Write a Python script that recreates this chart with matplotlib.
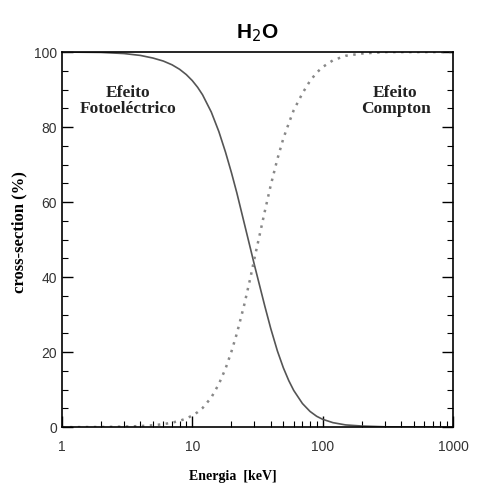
from matplotlib import pyplot as plt
from matplotlib.ticker import MultipleLocator, FixedLocator, NullFormatter
import numpy as np

# values
energy_foto = [1, 2, 3, 4, 5, 6, 7, 8, 9, 10, 11, 12, 14, 16, 18, 20, 22, 25, 28, 30, 33, 36,
               40, 45, 50, 55, 60, 70, 80, 90, 100, 120, 150, 200, 300, 1000]
foto = [100, 99.9, 99.6, 99.1, 98.4, 97.6, 96.6, 95.4, 94.0, 92.4, 90.6, 88.6, 84, 78.8, 73.3,
        67.8, 62.4, 54.5, 47.5, 43.2, 37.5, 32.3, 26.3, 20.3, 15.8, 12.4, 9.8, 6.3, 4.2, 2.9,
        2.1, 1.2, 0.6, 0.3, 0.1, 0]

energy_compton = [1, 2, 3, 4, 5, 6, 7, 8, 9, 10, 11, 12, 14, 16, 18, 20, 22, 25, 28, 30, 33, 36,
                  40, 45, 50, 55, 60, 70, 80, 90, 100, 120, 150, 200, 300, 1000]
compton = [0, 0.05, 0.15, 0.3, 0.5, 0.8, 1.2, 1.7, 2.3, 3.1, 4.0, 5.1, 7.9, 11.5, 15.6, 20.2,
           25.0, 32.5, 40, 45, 51.5, 57.5, 64.5, 71.5, 77, 81, 84.5, 89, 92.3, 94.5, 96, 97.8,
           99, 99.6, 100, 100]

xticks = [1, 10, 100, 1000]
xticklabels = ['1', '10', '100', '1000']
yticks = [0, 20, 40, 60, 80, 100]

fig = plt.figure(figsize=(4.83, 4.91), dpi=100)
ax = fig.add_axes([0.128, 0.130, 0.81, 0.764])

ax.plot(energy_foto, foto, color='#555555', lw=1.2)
ax.plot(energy_compton, compton, color='#888888', lw=1.8, ls=(0, (1, 2.2)))

ax.set_xscale('log')
ax.set_xlim(1, 1000)
ax.set_ylim(0, 100)

ax.xaxis.set_major_locator(FixedLocator(xticks))
ax.set_xticklabels(xticklabels)
minors = [m * d for d in [1, 10, 100] for m in range(2, 10)]
ax.xaxis.set_minor_locator(FixedLocator(minors))
ax.xaxis.set_minor_formatter(NullFormatter())
ax.set_yticks(yticks)
ax.yaxis.set_minor_locator(MultipleLocator(5))

ax.tick_params(which='major', direction='in', length=8, width=1, top=False, right=True,
               labelsize=10, colors='black', labelcolor='#333333')
ax.tick_params(which='minor', direction='in', length=4, width=0.8, top=False, right=True)
ax.tick_params(axis='x', pad=9)
for lab in ax.get_xticklabels() + ax.get_yticklabels():
    lab.set_family('Liberation Sans')
for s in ax.spines.values():
    s.set_linewidth(1.2)

ax.set_title('H$_2$O', fontsize=15, fontweight='bold', family='Liberation Sans', pad=10)
ax.set_xlabel('Energia  [keV]', family='Liberation Serif', fontweight='bold', fontsize=10)
ax.xaxis.set_label_coords(0.437, -0.115)
ax.set_ylabel('cross-section (%)', family='Liberation Serif', fontweight='bold', fontsize=12)
ax.yaxis.set_label_coords(-0.088, 0.52)

ax.text(3.2, 87.0, 'Efeito\nFotoeléctrico', family='Liberation Serif', fontweight='bold',
        fontsize=12.5, ha='center', va='center', color='#222222', linespacing=1.05)
ax.text(362, 87.0, 'Efeito\nCompton', family='Liberation Serif', fontweight='bold',
        fontsize=12.5, ha='center', va='center', color='#222222', linespacing=1.05)

plt.savefig('out.png', dpi=100)
